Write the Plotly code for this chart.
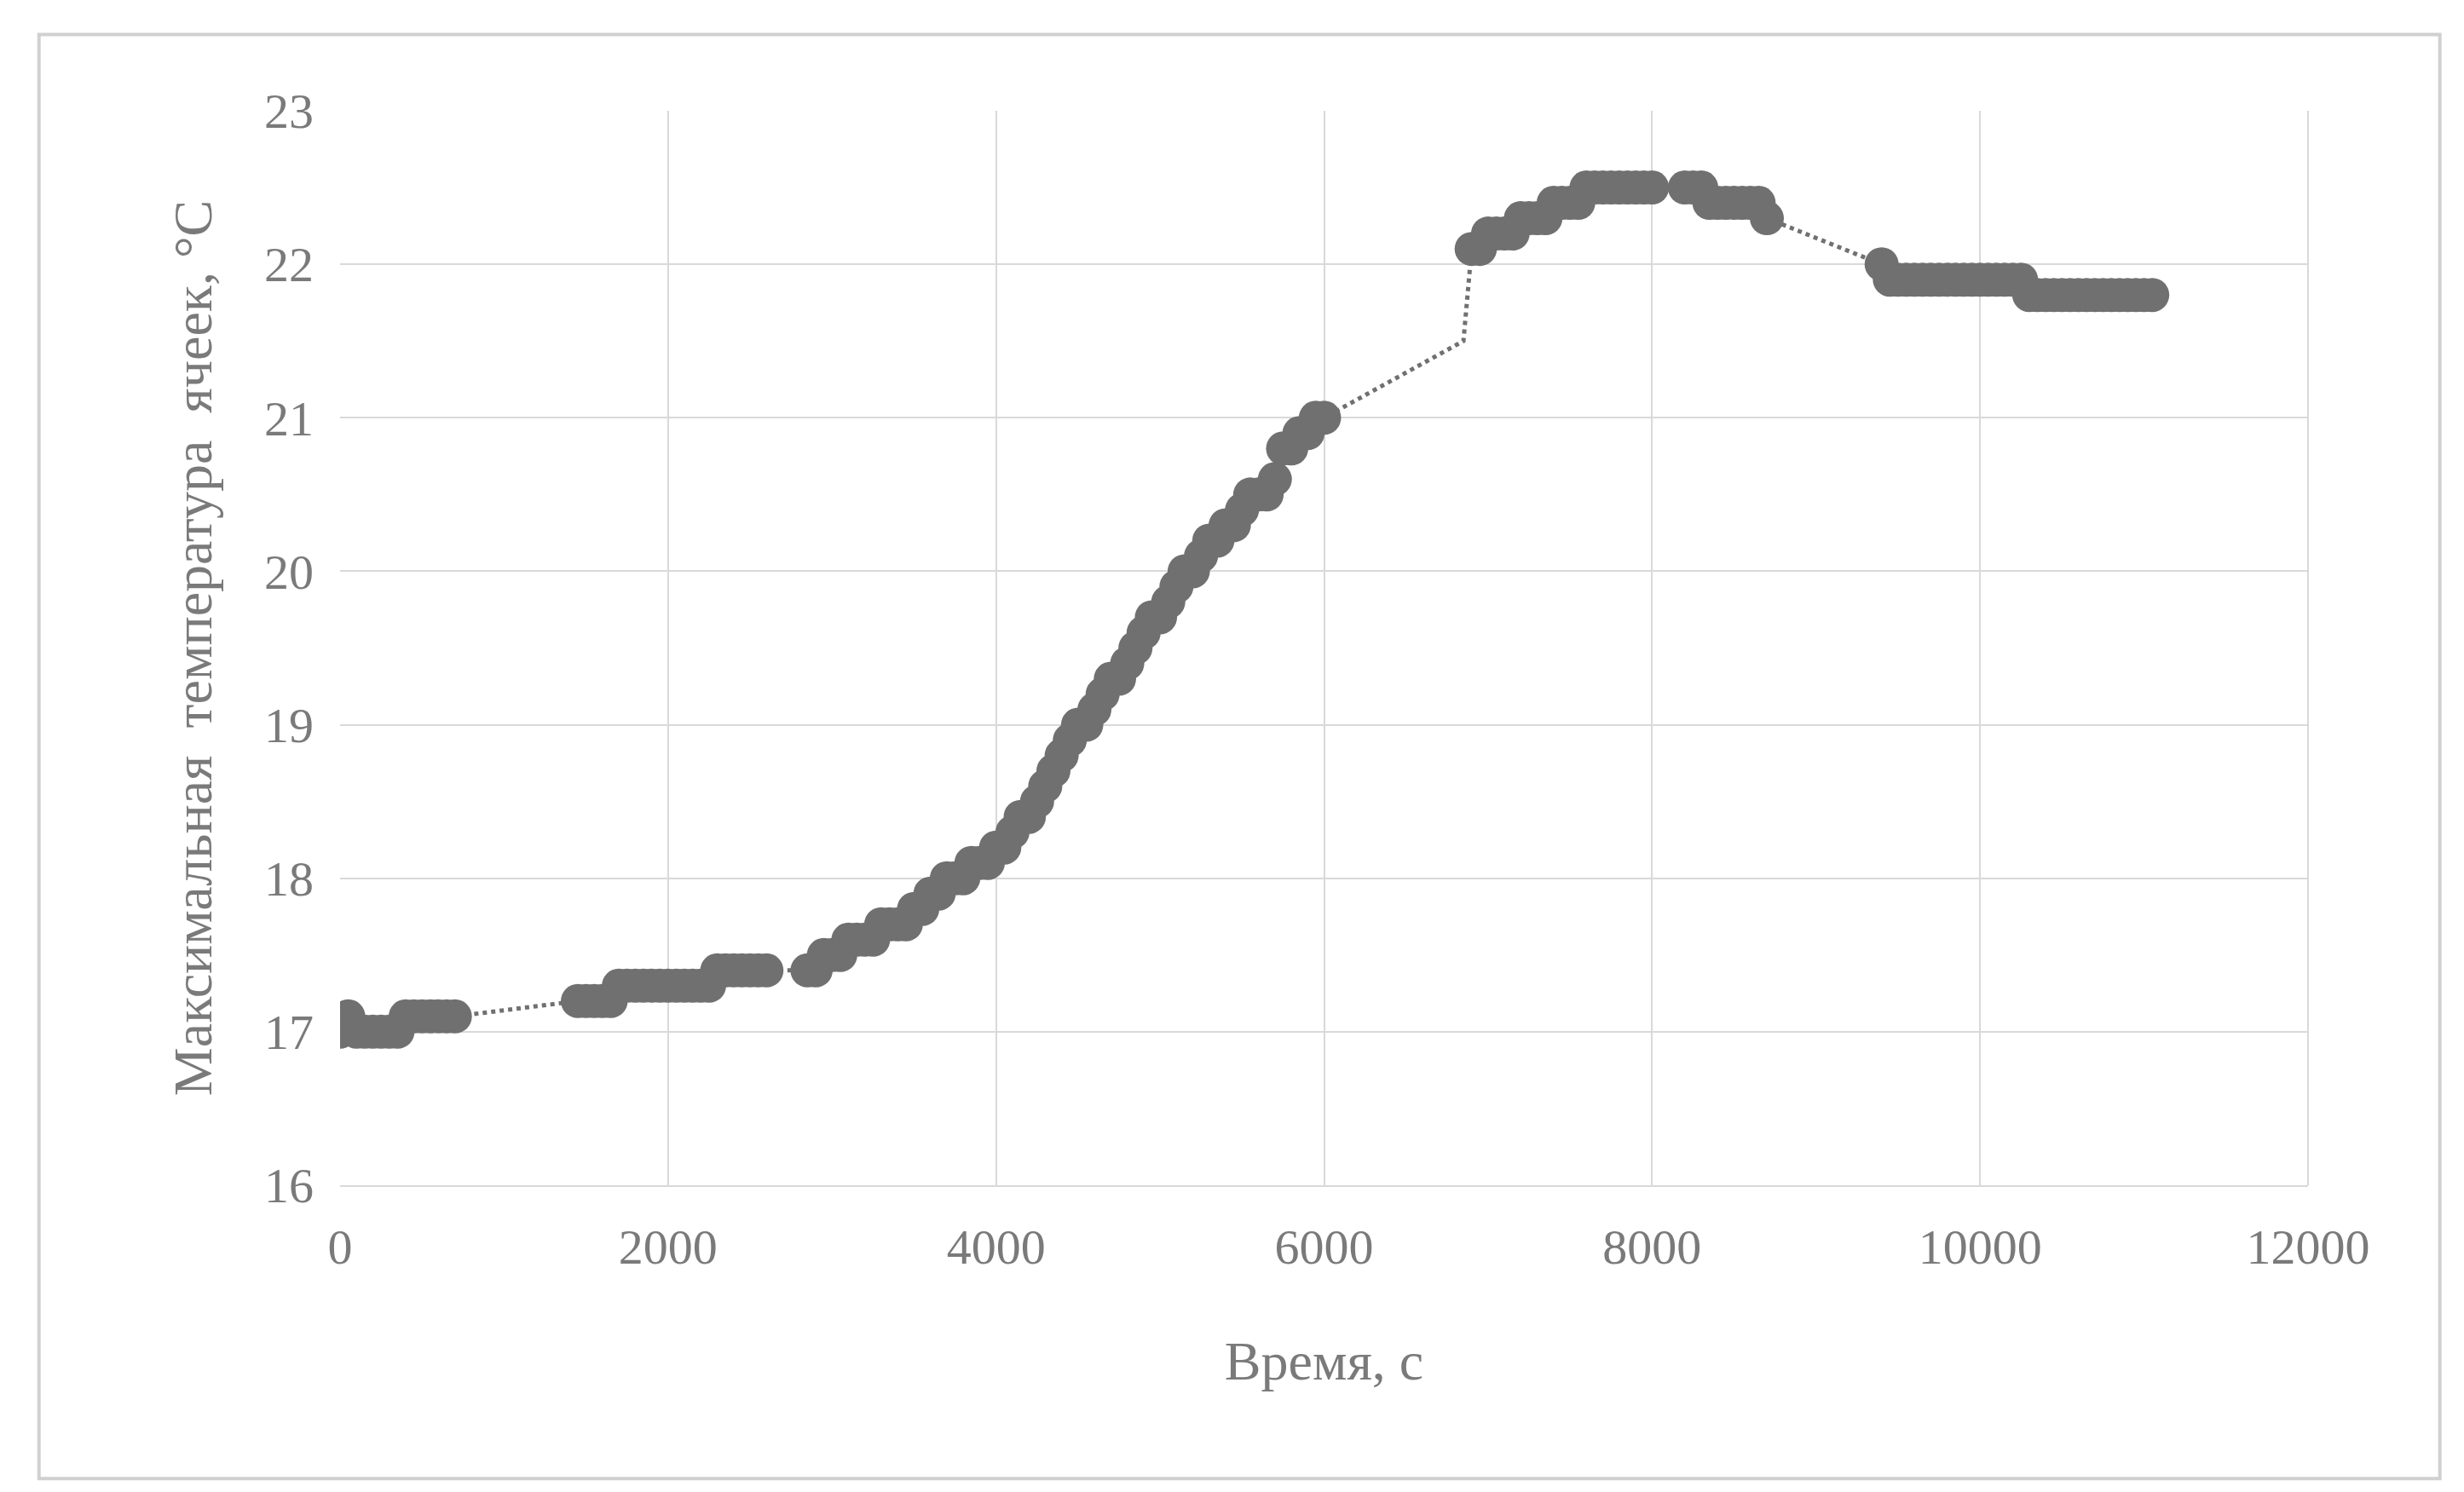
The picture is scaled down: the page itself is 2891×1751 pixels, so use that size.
import plotly.graph_objects as go

time_s = [0,50,100,150,200,250,300,350,400,450,500,550,600,650,700,
          1450,1500,1550,1600,1650,1700,1750,1800,1850,1900,1950,2000,2050,2100,2150,2200,2250,
          2300,2350,2400,2450,2500,2550,2600,
          2850,2900,2950,3000,3050,3100,3150,3200,3250,3300,3350,3400,3450,3500,3550,3600,3650,
          3700,3750,3800,3850,3900,3950,4000,4050,4100,4150,4200,4250,4300,4350,4400,4450,4500,
          4550,4600,4650,4700,4750,4800,4850,4900,4950,5000,5050,5100,5150,5200,5250,5300,5350,
          5400,5450,5500,5550,5600,5650,5700,5750,5800,5850,5900,5950,6000,
          6850,
          6900,6950,7000,7050,7100,7150,7200,7250,7300,7350,7400,7450,7500,7550,
          7600,7650,7700,7750,7800,7850,7900,7950,8000,8200,8250,8300,
          8350,8400,8450,8500,8550,8600,8650,8700,
          9400,9450,9500,9550,9600,9650,9700,9750,9800,9850,9900,9950,10000,10050,10100,10150,10200,10250,
          10300,10350,10400,10450,10500,10550,10600,10650,10700,10750,10800,10850,10900,10950,11000,11050]
temp_c = [17.0,17.1,17.0,17.0,17.0,17.0,17.0,17.0,17.1,17.1,17.1,17.1,17.1,17.1,17.1,
          17.2,17.2,17.2,17.2,17.2,17.3,17.3,17.3,17.3,17.3,17.3,17.3,17.3,17.3,17.3,17.3,17.3,
          17.4,17.4,17.4,17.4,17.4,17.4,17.4,
          17.4,17.4,17.5,17.5,17.5,17.6,17.6,17.6,17.6,17.7,17.7,17.7,17.7,17.8,17.8,17.9,17.9,
          18.0,18.0,18.0,18.1,18.1,18.1,18.2,18.2,18.3,18.4,18.4,18.5,18.6,18.7,18.8,18.9,19.0,
          19.0,19.1,19.2,19.3,19.3,19.4,19.5,19.6,19.7,19.7,19.8,19.9,20.0,20.0,20.1,20.2,20.2,
          20.3,20.3,20.4,20.5,20.5,20.5,20.6,20.8,20.8,20.9,20.9,21.0,21.0,
          21.5,
          22.1,22.1,22.2,22.2,22.2,22.2,22.3,22.3,22.3,22.3,22.4,22.4,22.4,22.4,
          22.5,22.5,22.5,22.5,22.5,22.5,22.5,22.5,22.5,22.5,22.5,22.5,
          22.4,22.4,22.4,22.4,22.4,22.4,22.4,22.3,
          22.0,21.9,21.9,21.9,21.9,21.9,21.9,21.9,21.9,21.9,21.9,21.9,21.9,21.9,21.9,21.9,21.9,21.9,
          21.8,21.8,21.8,21.8,21.8,21.8,21.8,21.8,21.8,21.8,21.8,21.8,21.8,21.8,21.8,21.8]

x_ticks = [0, 2000, 4000, 6000, 8000, 10000, 12000]
x_tick_labels = ["0", "2000", "4000", "6000", "8000", "10000", "12000"]
y_ticks = [16, 17, 18, 19, 20, 21, 22, 23]

sizes = [0 if t == 6850 else 40 for t in time_s]

fig = go.Figure(go.Scatter(
    x=time_s, y=temp_c, mode="lines+markers",
    line=dict(color="#707070", width=5, dash="dot"),
    marker=dict(color="#707070", size=sizes, opacity=1, line=dict(width=0)),
    showlegend=False))

fig.update_layout(
    width=2891, height=1751, paper_bgcolor="white", plot_bgcolor="white",
    margin=dict(l=391, r=191, t=122, b=368),
    font=dict(family="Liberation Serif", color="#7a7a7a", size=58),
    xaxis=dict(range=[0, 12000], tickvals=x_ticks, ticktext=x_tick_labels, showgrid=True,
               gridcolor="#d9d9d9", gridwidth=2, zeroline=False, showline=True,
               linecolor="#d9d9d9", linewidth=2, ticks="", ticklabelstandoff=20,
               tickfont=dict(size=58), title=dict(text="Время, с", font=dict(size=64), standoff=80)),
    yaxis=dict(range=[16, 23], tickvals=y_ticks, showgrid=True, gridcolor="#d9d9d9",
               gridwidth=2, zeroline=False, ticks="", ticklabelstandoff=30, tickfont=dict(size=58),
               title=dict(text="Максимальная  температура  ячеек, °С", font=dict(size=64), standoff=40)),
    shapes=[dict(type="rect", xref="paper", yref="paper", x0=-0.153, x1=1.067, y0=-0.273, y1=1.071,
                 line=dict(color="#d0d0d0", width=4)),
            dict(type="line", xref="paper", yref="paper", x0=1, x1=1, y0=0, y1=1,
                 line=dict(color="#d9d9d9", width=2))],
)
fig.write_html("out.html")
